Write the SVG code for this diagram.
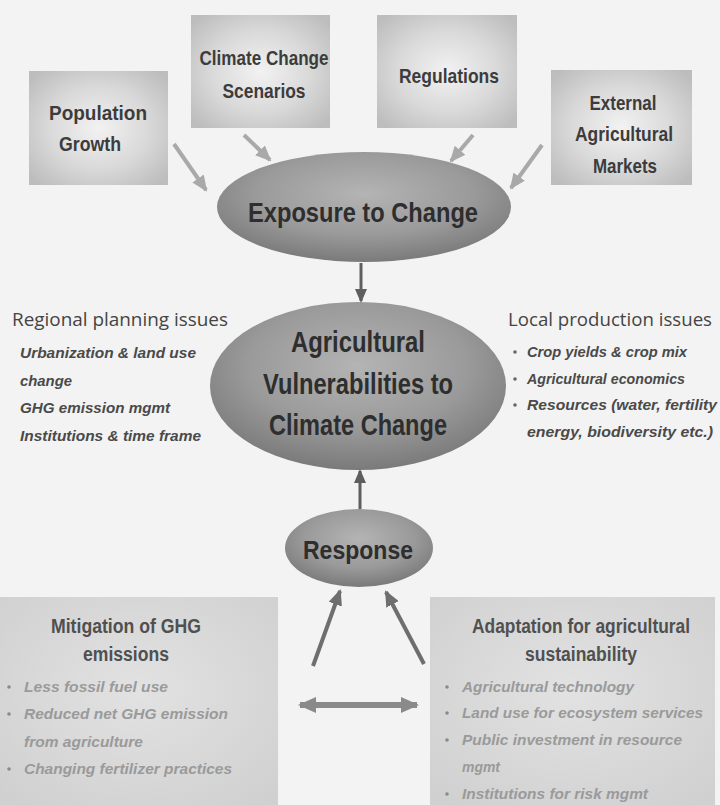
<svg xmlns="http://www.w3.org/2000/svg" width="720" height="805" viewBox="0 0 720 805">
  <defs>
    <radialGradient id="boxFill" cx="50%" cy="50%" r="65%">
      <stop offset="0%" stop-color="#f2f2f2"/>
      <stop offset="55%" stop-color="#d9d9d9"/>
      <stop offset="100%" stop-color="#bdbdbd"/>
    </radialGradient>
    <radialGradient id="ovalFill" cx="50%" cy="38%" r="62%">
      <stop offset="0%" stop-color="#b4b4b4"/>
      <stop offset="60%" stop-color="#9a9a9a"/>
      <stop offset="100%" stop-color="#7a7a7a"/>
    </radialGradient>
    <radialGradient id="panelFill" cx="50%" cy="45%" r="70%">
      <stop offset="0%" stop-color="#e2e2e2"/>
      <stop offset="100%" stop-color="#d0d0d0"/>
    </radialGradient>
    <marker id="headLight" markerUnits="userSpaceOnUse" markerWidth="16" markerHeight="14" refX="14" refY="7" orient="auto">
      <path d="M0,0 L16,7 L0,14 Z" fill="#a9a9a9"/>
    </marker>
    <marker id="headDark" markerUnits="userSpaceOnUse" markerWidth="14" markerHeight="12" refX="12" refY="6" orient="auto">
      <path d="M0,0 L14,6 L0,12 Z" fill="#5e5e5e"/>
    </marker>
    <marker id="headMid" markerUnits="userSpaceOnUse" markerWidth="16" markerHeight="14" refX="14" refY="7" orient="auto">
      <path d="M0,0 L16,7 L0,14 Z" fill="#6e6e6e"/>
    </marker>
    <marker id="headDouble" markerUnits="userSpaceOnUse" markerWidth="18" markerHeight="16" refX="16" refY="8" orient="auto-start-reverse">
      <path d="M0,0 L18,8 L0,16 Z" fill="#8a8a8a"/>
    </marker>
  </defs>
  <style>
    .head { font-family: "Liberation Sans", Arial, sans-serif; font-weight: bold; fill: #3c3c3c; text-anchor: middle; }
    .oval { font-family: "Liberation Sans", Arial, sans-serif; font-weight: bold; fill: #2e2e2e; text-anchor: middle; }
    .issue { font-family: "Open Sans", "Liberation Sans", sans-serif; font-size: 19px; fill: #444; }
    .item { font-family: "Liberation Sans", Arial, sans-serif; font-weight: bold; font-style: italic; font-size: 15px; fill: #4a4a4a; }
    .faint { font-family: "Liberation Sans", Arial, sans-serif; font-weight: bold; font-style: italic; font-size: 15px; fill: #9a9a9a; }
    .panelHead { font-family: "Liberation Sans", Arial, sans-serif; font-weight: bold; font-size: 20px; fill: #505050; text-anchor: middle; }
    .box { fill: url(#boxFill); }
    .ellipse { fill: url(#ovalFill); }
    .panel { fill: url(#panelFill); }
    .bullet { fill: #8a8a8a; }
    .bulletDark { fill: #666; }
  </style>

  <rect x="0" y="0" width="720" height="805" fill="#f3f3f3"/>

  <!-- driver boxes -->
  <g id="population-growth">
    <rect class="box" x="29" y="71" width="139" height="114"/>
    <text class="head" x="98" y="120" font-size="21" textLength="98" lengthAdjust="spacingAndGlyphs">Population</text>
    <text class="head" x="90" y="151" font-size="21" textLength="62" lengthAdjust="spacingAndGlyphs">Growth</text>
  </g>
  <g id="climate-scenarios">
    <rect class="box" x="191" y="15" width="139" height="113"/>
    <text class="head" x="264" y="65" font-size="21" textLength="129" lengthAdjust="spacingAndGlyphs">Climate Change</text>
    <text class="head" x="264" y="98" font-size="21" textLength="83" lengthAdjust="spacingAndGlyphs">Scenarios</text>
  </g>
  <g id="regulations">
    <rect class="box" x="377" y="15" width="140" height="113"/>
    <text class="head" x="449" y="83" font-size="21" textLength="100" lengthAdjust="spacingAndGlyphs">Regulations</text>
  </g>
  <g id="external-markets">
    <rect class="box" x="551" y="70" width="141" height="115"/>
    <text class="head" x="623" y="110" font-size="21" textLength="67" lengthAdjust="spacingAndGlyphs">External</text>
    <text class="head" x="624" y="141" font-size="21" textLength="98" lengthAdjust="spacingAndGlyphs">Agricultural</text>
    <text class="head" x="625" y="173" font-size="21" textLength="64" lengthAdjust="spacingAndGlyphs">Markets</text>
  </g>

  <!-- central ovals -->
  <g id="exposure">
    <ellipse class="ellipse" cx="364" cy="207" rx="147" ry="55"/>
    <text class="oval" x="363" y="222" font-size="28" textLength="230" lengthAdjust="spacingAndGlyphs">Exposure to Change</text>
  </g>
  <g id="vulnerabilities">
    <ellipse class="ellipse" cx="358" cy="386" rx="148" ry="84"/>
    <text class="oval" x="358" y="352" font-size="30" textLength="134" lengthAdjust="spacingAndGlyphs">Agricultural</text>
    <text class="oval" x="358" y="394" font-size="30" textLength="190" lengthAdjust="spacingAndGlyphs">Vulnerabilities to</text>
    <text class="oval" x="358" y="435" font-size="30" textLength="178" lengthAdjust="spacingAndGlyphs">Climate Change</text>
  </g>
  <g id="response">
    <ellipse class="ellipse" cx="359" cy="548" rx="74" ry="39"/>
    <text class="oval" x="358" y="559" font-size="26" textLength="110" lengthAdjust="spacingAndGlyphs">Response</text>
  </g>

  <!-- side notes -->
  <g id="regional-issues">
    <text class="issue" x="12" y="326" textLength="216" lengthAdjust="spacingAndGlyphs">Regional planning issues</text>
    <text class="item" x="20" y="358" textLength="176" lengthAdjust="spacingAndGlyphs">Urbanization &amp; land use</text>
    <text class="item" x="20" y="386" textLength="52" lengthAdjust="spacingAndGlyphs">change</text>
    <text class="item" x="20" y="413" textLength="150" lengthAdjust="spacingAndGlyphs">GHG emission mgmt</text>
    <text class="item" x="20" y="441" textLength="181" lengthAdjust="spacingAndGlyphs">Institutions &amp; time frame</text>
  </g>
  <g id="local-issues">
    <text class="issue" x="508" y="326" textLength="204" lengthAdjust="spacingAndGlyphs">Local production issues</text>
    <circle class="bulletDark" cx="515" cy="352" r="1.8"/>
    <text class="item" x="527" y="357" textLength="160" lengthAdjust="spacingAndGlyphs">Crop yields &amp; crop mix</text>
    <circle class="bulletDark" cx="515" cy="379" r="1.8"/>
    <text class="item" x="527" y="384" textLength="158" lengthAdjust="spacingAndGlyphs">Agricultural economics</text>
    <circle class="bulletDark" cx="515" cy="405" r="1.8"/>
    <text class="item" x="527" y="410" textLength="190" lengthAdjust="spacingAndGlyphs">Resources (water, fertility</text>
    <text class="item" x="527" y="437" textLength="186" lengthAdjust="spacingAndGlyphs">energy, biodiversity etc.)</text>
  </g>

  <!-- response panels -->
  <g id="mitigation">
    <rect class="panel" x="0" y="597" width="278" height="208"/>
    <text class="panelHead" x="126" y="633" textLength="150" lengthAdjust="spacingAndGlyphs">Mitigation of GHG</text>
    <text class="panelHead" x="126" y="661" textLength="86" lengthAdjust="spacingAndGlyphs">emissions</text>
    <circle class="bullet" cx="9" cy="687" r="1.8"/>
    <text class="faint" x="24" y="692" textLength="144" lengthAdjust="spacingAndGlyphs">Less fossil fuel use</text>
    <circle class="bullet" cx="9" cy="714" r="1.8"/>
    <text class="faint" x="24" y="719" textLength="204" lengthAdjust="spacingAndGlyphs">Reduced net GHG emission</text>
    <text class="faint" x="24" y="747" textLength="119" lengthAdjust="spacingAndGlyphs">from agriculture</text>
    <circle class="bullet" cx="9" cy="769" r="1.8"/>
    <text class="faint" x="24" y="774" textLength="208" lengthAdjust="spacingAndGlyphs">Changing fertilizer practices</text>
  </g>
  <g id="adaptation">
    <rect class="panel" x="430" y="597" width="285" height="208"/>
    <text class="panelHead" x="581" y="633" textLength="218" lengthAdjust="spacingAndGlyphs">Adaptation for agricultural</text>
    <text class="panelHead" x="581" y="661" textLength="112" lengthAdjust="spacingAndGlyphs">sustainability</text>
    <circle class="bullet" cx="447" cy="687" r="1.8"/>
    <text class="faint" x="462" y="692" textLength="172" lengthAdjust="spacingAndGlyphs">Agricultural technology</text>
    <circle class="bullet" cx="447" cy="713" r="1.8"/>
    <text class="faint" x="462" y="718" textLength="241" lengthAdjust="spacingAndGlyphs">Land use for ecosystem services</text>
    <circle class="bullet" cx="447" cy="740" r="1.8"/>
    <text class="faint" x="462" y="745" textLength="220" lengthAdjust="spacingAndGlyphs">Public investment in resource</text>
    <text class="faint" x="462" y="772" textLength="38" lengthAdjust="spacingAndGlyphs">mgmt</text>
    <circle class="bullet" cx="447" cy="794" r="1.8"/>
    <text class="faint" x="462" y="799" textLength="186" lengthAdjust="spacingAndGlyphs">Institutions for risk mgmt</text>
  </g>

  <!-- connectors -->
  <g id="connectors" fill="none" stroke-linecap="butt">
    <line x1="174" y1="144" x2="206" y2="190" stroke="#a9a9a9" stroke-width="4" marker-end="url(#headLight)"/>
    <line x1="244" y1="135" x2="270" y2="160" stroke="#a9a9a9" stroke-width="4" marker-end="url(#headLight)"/>
    <line x1="473" y1="135" x2="451" y2="161" stroke="#a9a9a9" stroke-width="4" marker-end="url(#headLight)"/>
    <line x1="542" y1="145" x2="511" y2="188" stroke="#a9a9a9" stroke-width="4" marker-end="url(#headLight)"/>
    <line x1="361" y1="263" x2="361" y2="301" stroke="#5e5e5e" stroke-width="3" marker-end="url(#headDark)"/>
    <line x1="360" y1="509" x2="360" y2="471" stroke="#5e5e5e" stroke-width="3" marker-end="url(#headDark)"/>
    <line x1="313" y1="666" x2="340" y2="591" stroke="#6e6e6e" stroke-width="4" marker-end="url(#headMid)"/>
    <line x1="424" y1="664" x2="386" y2="592" stroke="#6e6e6e" stroke-width="4" marker-end="url(#headMid)"/>
    <line x1="300" y1="705" x2="417" y2="705" stroke="#8a8a8a" stroke-width="6" marker-start="url(#headDouble)" marker-end="url(#headDouble)"/>
  </g>
</svg>
